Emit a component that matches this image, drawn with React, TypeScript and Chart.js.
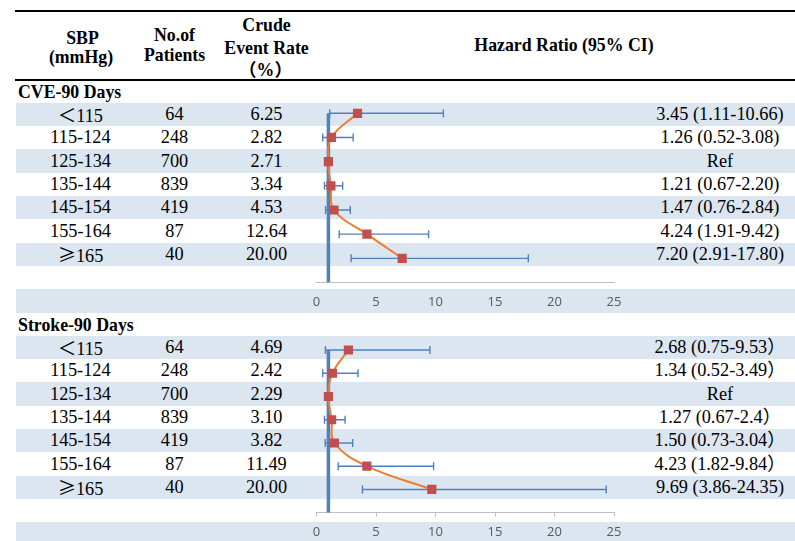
import React, { useEffect, useRef } from "react";
import { Chart, registerables } from "chart.js";

Chart.register(...registerables);

// ---------------- data ----------------
const sbpGroups = ["＜115", "115-124", "125-134", "135-144", "145-154", "155-164", "≥165"];
const patients = [64, 248, 700, 839, 419, 87, 40];

const cveRates = ["6.25", "2.82", "2.71", "3.34", "4.53", "12.64", "20.00"];
const cveHR = [3.45, 1.26, 1.0, 1.21, 1.47, 4.24, 7.2];
const cveLower: (number | null)[] = [1.11, 0.52, null, 0.67, 0.76, 1.91, 2.91];
const cveUpper: (number | null)[] = [10.66, 3.08, null, 2.2, 2.84, 9.42, 17.8];
const cveLabels = [
  "3.45 (1.11-10.66)",
  "1.26 (0.52-3.08)",
  "Ref",
  "1.21 (0.67-2.20)",
  "1.47 (0.76-2.84)",
  "4.24 (1.91-9.42)",
  "7.20 (2.91-17.80)",
];

const strokeRates = ["4.69", "2.42", "2.29", "3.10", "3.82", "11.49", "20.00"];
const strokeHR = [2.68, 1.34, 1.0, 1.27, 1.5, 4.23, 9.69];
const strokeLower: (number | null)[] = [0.75, 0.52, null, 0.67, 0.73, 1.82, 3.86];
const strokeUpper: (number | null)[] = [9.53, 3.49, null, 2.4, 3.04, 9.84, 24.35];
const strokeLabels = [
  "2.68 (0.75-9.53）",
  "1.34 (0.52-3.49）",
  "Ref",
  "1.27 (0.67-2.4）",
  "1.50 (0.73-3.04）",
  "4.23 (1.82-9.84）",
  "9.69 (3.86-24.35)",
];

const xTicks = [0, 5, 10, 15, 20, 25];
const refValue = 1;

// ---------------- styles ----------------
const BAND = "#DCE6F1";
const BLUE = "#4F81BD";
const ORANGE = "#ED7D31";
const RED = "#C0504D";
const SERIF = '"Liberation Serif", "Times New Roman", "Noto Sans CJK SC", serif';
const CJK = '"Noto Sans CJK SC", "Noto Sans CJK JP", sans-serif';

type ForestProps = {
  hr: number[];
  lower: (number | null)[];
  upper: (number | null)[];
  left: number;
  top: number;
  width: number;
  height: number;
  pad: { left: number; right: number; top: number; bottom: number };
  axisHeight: number;
  tickPadding: number;
  drawTicks: boolean;
};

function Forest(p: ForestProps) {
  const ref = useRef<HTMLCanvasElement | null>(null);
  useEffect(() => {
    if (!ref.current) return;
    const rows = p.hr.map((_, i) => i + 1);
    const errorBars = {
      id: "errorBars",
      beforeDatasetDraw(chart: any, args: any) {
        if (args.index !== 0) return;
        const xs = chart.scales.x;
        const ys = chart.scales.y;
        const ctx = chart.ctx as CanvasRenderingContext2D;
        ctx.save();
        ctx.strokeStyle = BLUE;
        ctx.lineWidth = 1.4;
        p.lower.forEach((lo, i) => {
          const hi = p.upper[i];
          if (lo == null || hi == null) return;
          const y = ys.getPixelForValue(rows[i]);
          const x1 = xs.getPixelForValue(lo);
          const x2 = xs.getPixelForValue(hi);
          ctx.beginPath();
          ctx.moveTo(x1, y);
          ctx.lineTo(x2, y);
          ctx.moveTo(x1, y - 4);
          ctx.lineTo(x1, y + 4);
          ctx.moveTo(x2, y - 4);
          ctx.lineTo(x2, y + 4);
          ctx.stroke();
        });
        ctx.restore();
      },
    };
    const chart = new Chart(ref.current, {
      type: "scatter",
      data: {
        datasets: [
          {
            data: p.hr.map((v, i) => ({ x: v, y: rows[i] })),
            showLine: true,
            tension: 0.4,
            borderColor: ORANGE,
            borderWidth: 2,
            pointStyle: "rect",
            pointRadius: 6.5,
            pointBackgroundColor: RED,
            pointBorderColor: RED,
            pointBorderWidth: 0,
          } as any,
          {
            data: [
              { x: refValue, y: 1 },
              { x: refValue, y: 8 },
            ],
            showLine: true,
            borderColor: BLUE,
            borderWidth: 3.5,
            pointRadius: 0,
          } as any,
        ],
      },
      options: {
        animation: false,
        responsive: false,
        maintainAspectRatio: false,
        layout: { padding: p.pad },
        plugins: { legend: { display: false }, tooltip: { enabled: false } },
        scales: {
          x: {
            type: "linear",
            min: 0,
            max: 25,
            afterBuildTicks: (s: any) => {
              s.ticks = xTicks.map((v) => ({ value: v }));
            },
            afterFit: (s: any) => {
              s.height = p.axisHeight;
            },
            grid: {
              drawOnChartArea: false,
              drawTicks: p.drawTicks,
              tickLength: 4,
              color: "#BFBFBF",
            },
            border: { color: "#BFBFBF", width: 1 },
            ticks: {
              font: { family: '"Open Sans", sans-serif', size: 13 },
              color: "#595959",
              padding: p.tickPadding,
              maxRotation: 0,
              autoSkip: false,
            },
          },
          y: { type: "linear", reverse: true, min: 0.5, max: 8, display: false },
        },
      },
      plugins: [errorBars],
    });
    return () => chart.destroy();
  }, []);
  return (
    <canvas
      ref={ref}
      width={p.width}
      height={p.height}
      style={{ position: "absolute", left: p.left, top: p.top, width: p.width, height: p.height }}
    />
  );
}

function T(props: { x: number; y: number; text: string; bold?: boolean; align?: "left" | "center"; size?: number }) {
  const { x, y, text, bold, align = "center" } = props;
  const size = props.size ?? (bold ? 17.8 : 18.3);
  const w = 260;
  // render special comparison symbols with the CJK font, like the original
  const first = text.charAt(0);
  const special = first === "≥" || first === "＜";
  return (
    <div
      style={{
        position: "absolute",
        left: align === "center" ? x - w / 2 : x,
        top: y - 10,
        width: w,
        height: 20,
        lineHeight: "20px",
        fontSize: size,
        fontWeight: bold ? "bold" : "normal",
        textAlign: align,
        whiteSpace: "nowrap",
        fontFamily: SERIF,
        color: "#000",
      }}
    >
      {special ? (
        <>
          <span style={{ fontFamily: CJK }}>{first}</span>
          {text.slice(1)}
        </>
      ) : (
        text
      )}
    </div>
  );
}

const ROW_H = 23.33;
const COL_SBP = 80.5;
const COL_N = 174.5;
const COL_RATE = 266.5;
const COL_HR = 720;

function Section(props: {
  title: string;
  titleY: number;
  bandTop: number;
  rates: string[];
  labels: string[];
}) {
  const { title, titleY, bandTop, rates, labels } = props;
  const bands = [0, 2, 4, 6, 8].map((k) => (
    <div
      key={"b" + k}
      style={{
        position: "absolute",
        left: 16,
        width: 779,
        top: bandTop + k * ROW_H,
        height: ROW_H,
        background: BAND,
      }}
    />
  ));
  const cy = (k: number) => bandTop + k * ROW_H + ROW_H / 2 - 0.5;
  return (
    <>
      {bands}
      <T x={18} y={titleY} text={title} bold align="left" />
      {sbpGroups.map((g, i) => (
        <React.Fragment key={"r" + i}>
          <T x={COL_SBP} y={cy(i)} text={g} />
          <T x={COL_N} y={cy(i)} text={String(patients[i])} />
          <T x={COL_RATE} y={cy(i)} text={rates[i]} />
          <T x={COL_HR} y={cy(i)} text={labels[i]} />
        </React.Fragment>
      ))}
    </>
  );
}

export default function App() {
  return (
    <div
      style={{
        position: "absolute",
        left: 0,
        top: 0,
        width: 795,
        height: 541,
        overflow: "hidden",
        background: "#fff",
      }}
    >
      {/* header rules */}
      <div style={{ position: "absolute", left: 15, width: 780, top: 10, height: 2, background: "#000" }} />
      <div style={{ position: "absolute", left: 15, width: 780, top: 79, height: 2, background: "#000" }} />

      {/* header text */}
      <T x={COL_SBP + 2} y={37.5} text="SBP" bold />
      <T x={COL_SBP + 0.5} y={57} text="(mmHg)" bold />
      <T x={COL_N} y={34.5} text="No.of" bold />
      <T x={COL_N} y={55} text="Patients" bold />
      <T x={COL_RATE} y={25} text="Crude" bold />
      <T x={COL_RATE} y={48.3} text="Event Rate" bold />
      <T x={COL_RATE - 1} y={70} text="（%）" bold />
      <T x={564} y={45} text="Hazard Ratio (95% CI)" bold />

      <Section title="CVE-90 Days" titleY={92} bandTop={102.7} rates={cveRates} labels={cveLabels} />
      <Section title="Stroke-90 Days" titleY={325} bandTop={335.7} rates={strokeRates} labels={strokeLabels} />

      <Forest
        hr={cveHR}
        lower={cveLower}
        upper={cveUpper}
        left={296}
        top={90}
        width={340}
        height={230}
        pad={{ left: 20.5, right: 22, top: 11.2, bottom: 7.5 }}
        axisHeight={30}
        tickPadding={11.7}
        drawTicks={false}
      />
      <Forest
        hr={strokeHR}
        lower={strokeLower}
        upper={strokeUpper}
        left={296}
        top={328}
        width={340}
        height={213}
        pad={{ left: 20.5, right: 22, top: 10.4, bottom: 0 }}
        axisHeight={28.3}
        tickPadding={7.5}
        drawTicks={true}
      />
    </div>
  );
}
